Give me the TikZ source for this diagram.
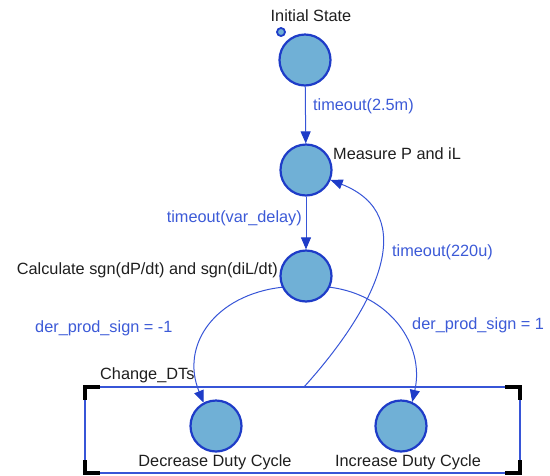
\documentclass[tikz,border=0pt]{standalone}
\usepackage{fontspec}
\setmainfont{Liberation Sans}
\usetikzlibrary{arrows.meta}
\definecolor{sfill}{RGB}{112,176,214}
\definecolor{sborder}{RGB}{30,60,200}
\definecolor{tline}{RGB}{55,85,215}
\definecolor{tlabel}{RGB}{60,90,215}
\definecolor{dtext}{RGB}{30,30,30}
\tikzset{
  state/.style={circle,draw=sborder,fill=sfill,line width=2.2pt,minimum size=51pt,inner sep=0pt},
  trans/.style={draw=tline,line width=1pt,-{Triangle[length=12pt,width=10pt,color=sborder]}},
  tlab/.style={text=tlabel,font=\fontsize{16.3}{18}\selectfont,inner sep=0pt},
  slab/.style={text=dtext,font=\fontsize{16.3}{18}\selectfont,inner sep=0pt},
  corner/.style={line width=3.5pt,black}
}
\begin{document}
\begin{tikzpicture}[x=1pt,y=-1pt]
\useasboundingbox (0,0) rectangle (550,475);
% box
\draw[tline,line width=1.3pt] (85,387) rectangle (520,473);
\node[slab,anchor=west] (boxlab) at (100,375) {Change\_DTs};
\draw[corner] (85,400) -- (85,387) -- (100,387);
\draw[corner] (505,387) -- (520,387) -- (520,400);
\draw[corner] (85,460) -- (85,473) -- (100,473);
\draw[corner] (505,473) -- (520,473) -- (520,460);
\coordinate (boxtop) at (304,387);
% states
\node[state] (init) at (305,60) {};
\node[circle,draw=sborder,line width=1.8pt,fill=sfill,minimum size=8pt,inner sep=0pt] (dot) at (281,32) {};
\node[slab] (initlab) at (311,16) {Initial State};
\node[state] (meas) at (306,170) {};
\node[slab,anchor=west] (measlab) at (333,154) {Measure P and iL};
\node[state] (calc) at (306,276) {};
\node[slab,anchor=east] (calclab) at (278,270) {Calculate sgn(dP/dt) and sgn(diL/dt)};
\node[state] (dec) at (216,426) {};
\node[slab] (declab) at (215,462) {Decrease Duty Cycle};
\node[state] (inc) at (401,426) {};
\node[slab] (inclab) at (408,462) {Increase Duty Cycle};
% transitions
\draw[trans] (init) -- (meas);
\node[tlab,anchor=west] (l1) at (313,106) {timeout(2.5m)};
\draw[trans] (meas) -- (calc);
\node[tlab,anchor=east] (l2) at (302,218) {timeout(var\_delay)};
\draw[trans] (calc.205) .. controls (215,295) and (180,345) .. (dec.118);
\node[tlab,anchor=west] (l3) at (35,328) {der\_prod\_sign = -1};
\draw[trans] (calc.335) .. controls (390,295) and (425,345) .. (inc.65);
\node[tlab,anchor=west] (l4) at (412,325) {der\_prod\_sign = 1};
\draw[trans] (boxtop) .. controls (378,305) and (420,215) .. (meas.-22);
\node[tlab,anchor=west] (l5) at (392,252) {timeout(220u)};
\end{tikzpicture}
\end{document}
